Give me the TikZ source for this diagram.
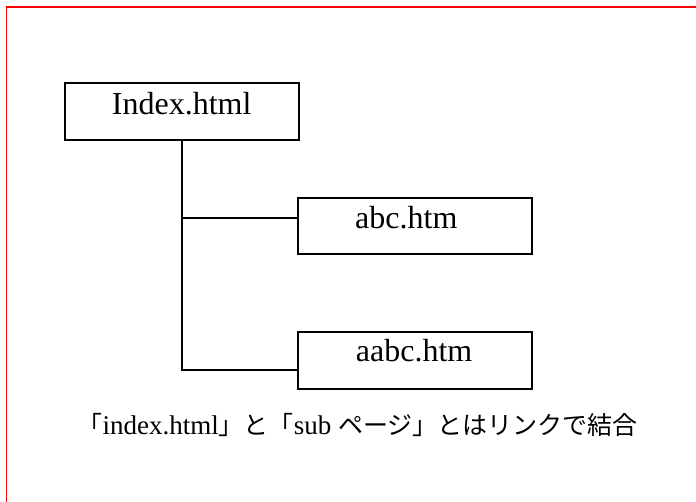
\documentclass[tikz,border=0pt]{standalone}
\usepackage{fontspec}
\setmainfont{Liberation Serif}
\newfontfamily\jp{Noto Sans CJK JP}
\begin{document}
\begin{tikzpicture}[x=1pt,y=-1pt,
  filebox/.style={draw=black, line width=1.8pt, inner sep=0pt, minimum width=234pt, minimum height=57pt},
  filename/.style={inner sep=0pt, font=\fontsize{32}{36}\selectfont},
  conn/.style={draw=black, line width=1.8pt},
  frame/.style={draw=red, line width=1.8pt}]
\useasboundingbox (0,0) rectangle (696,501);
\clip (0,0) rectangle (696,501);
\draw[frame] (6.5,7.3) rectangle (740,540);
% boxes
\node[filebox] (index) at (181.7,111.8) {};
\node[filebox, minimum height=55.7pt] (abc) at (415.2,226.2) {};
\node[filebox, minimum height=57.3pt] (aabc) at (415.3,360.3) {};
% labels
\node[filename, anchor=base] (indext) at (181.7,114.3) {Index.html};
\node[filename, anchor=base west] (abct) at (355,228.3) {abc.htm};
\node[filename, anchor=base west] (aabct) at (355.7,361.7) {aabc.htm};
% connectors
\coordinate (abcin) at ([yshift=8.3pt]abc.west);
\coordinate (aabcin) at ([yshift=-9.6pt]aabc.west);
\draw[conn] (index.south) -- (index.south |- aabcin) -- (aabcin);
\draw[conn] (index.south |- abcin) -- (abcin);
% note
\node[inner sep=0pt, anchor=base] (note) at (357.7,434.3)
  {{\jp\fontsize{25}{30}\selectfont 「}{\fontsize{27}{30}\selectfont index.html}{\jp\fontsize{25}{30}\selectfont 」と「}{\fontsize{27}{30}\selectfont sub }{\jp\fontsize{25}{30}\selectfont ページ」とはリンクで結合}};
\end{tikzpicture}
\end{document}
